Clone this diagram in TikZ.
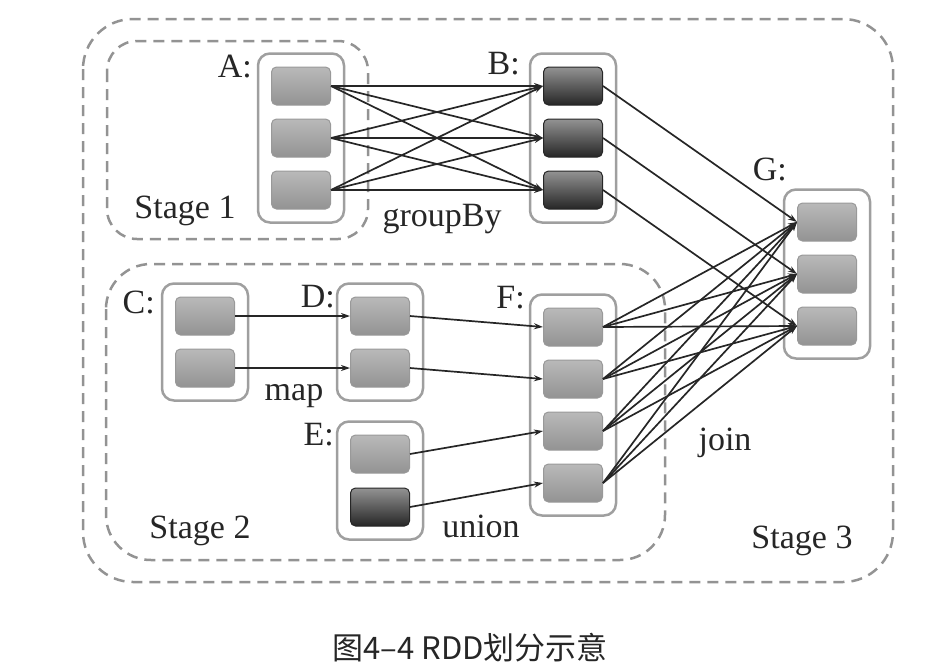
\documentclass[tikz,border=0pt]{standalone}
\usepackage{fontspec}
\setmainfont{Liberation Serif}
\newfontfamily\cjkfont{Noto Sans CJK SC}
\usetikzlibrary{positioning,fit,arrows.meta,shadings}

\tikzset{
  part/.style={rectangle, rounded corners=5pt, minimum width=59pt, minimum height=38pt, inner sep=0pt, draw=gray!80, line width=1pt, top color=gray!55, bottom color=gray!85},
  partdark/.style={part, draw=black!85, top color=gray!85, bottom color=black!85},
  rdd/.style={rectangle, rounded corners=12pt, draw=gray!75, line width=2.5pt, inner sep=13pt},
  stage/.style={draw=gray!85, line width=2.5pt, dash pattern=on 11pt off 7pt},
  dep/.style={draw=black!85, line width=1.7pt, -{Stealth[length=9pt,width=6pt]}},
  lbl/.style={font=\fontsize{34}{37}\selectfont, text=black!85, inner sep=0pt},
}

\begin{document}
\begin{tikzpicture}[x=1pt, y=-1pt, node distance=13pt]
\useasboundingbox (0,0) rectangle (940,670);

% stages
\draw[stage, rounded corners=50pt] (83,19) rectangle (893,582);
\draw[stage, rounded corners=30pt] (107,41) rectangle (368,239);
\draw[stage, rounded corners=45pt] (106,264) rectangle (665,560);

% partitions
\node[part] (a1) at (301,86) {};
\node[part, below=of a1] (a2) {};
\node[part, below=of a2] (a3) {};

\node[partdark] (b1) at (573,86) {};
\node[partdark, below=of b1] (b2) {};
\node[partdark, below=of b2] (b3) {};

\node[part] (c1) at (205,316) {};
\node[part, below=of c1] (c2) {};

\node[part] (d1) at (380,316) {};
\node[part, below=of d1] (d2) {};

\node[part] (e1) at (380,454) {};
\node[partdark, below=14pt of e1] (e2) {};

\node[part] (f1) at (573,327) {};
\node[part, below=of f1] (f2) {};
\node[part, below=of f2] (f3) {};
\node[part, below=of f3] (f4) {};

\node[part] (g1) at (827,222) {};
\node[part, below=of g1] (g2) {};
\node[part, below=of g2] (g3) {};

% RDDs
\node[rdd, fit=(a1) (a3)] (rddA) {};
\node[rdd, fit=(b1) (b3)] (rddB) {};
\node[rdd, fit=(c1) (c2)] (rddC) {};
\node[rdd, fit=(d1) (d2)] (rddD) {};
\node[rdd, fit=(e1) (e2)] (rddE) {};
\node[rdd, fit=(f1) (f4)] (rddF) {};
\node[rdd, fit=(g1) (g3)] (rddG) {};

% names
\node[lbl, anchor=base east] (nameA) at (252,77) {A:};
\node[lbl, anchor=base east] (nameB) at (520,74) {B:};
\node[lbl, anchor=base east] (nameC) at (155,313) {C:};
\node[lbl, anchor=base east] (nameD) at (335,307) {D:};
\node[lbl, anchor=base east] (nameE) at (334,445) {E:};
\node[lbl, anchor=base east] (nameF) at (525,308) {F:};
\node[lbl, anchor=base east] (nameG) at (787,180) {G:};

% operations and stages
\node[lbl, anchor=base] (groupby) at (442,226) {groupBy};
\node[lbl, anchor=base] (map) at (294,400) {map};
\node[lbl, anchor=base] (union) at (481,537) {union};
\node[lbl, anchor=base] (join) at (725,450) {join};
\node[lbl, anchor=base] (stage1) at (185,218) {Stage 1};
\node[lbl, anchor=base] (stage2) at (200,538) {Stage 2};
\node[lbl, anchor=base] (stage3) at (802,548) {Stage 3};

% dependencies
\foreach \i in {1,2,3}
  \foreach \j in {1,2,3}
    \draw[dep] (a\i.east) -- (b\j.west);
\foreach \i in {1,2,3}
  \draw[dep] (b\i.east) -- (g\i.west);
\foreach \i in {1,2}
  \draw[dep] (c\i.east) -- (d\i.west);
\draw[dep] (d1.east) -- (f1.west);
\draw[dep] (d2.east) -- (f2.west);
\draw[dep] (e1.east) -- (f3.west);
\draw[dep] (e2.east) -- (f4.west);
\foreach \i in {1,...,4}
  \foreach \j in {1,2,3}
    \draw[dep] (f\i.east) -- (g\j.west);

\node[font=\cjkfont\fontsize{31}{34}\selectfont, text=black!85] (caption) at (470,648) {图4–4 RDD划分示意};
\end{tikzpicture}
\end{document}
